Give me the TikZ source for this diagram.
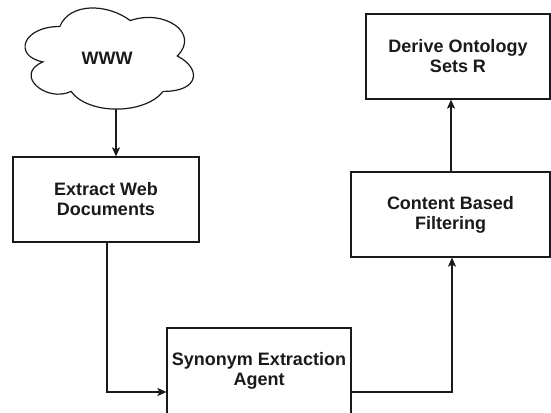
\documentclass[tikz,border=0pt]{standalone}
\usepackage{fontspec}
\setmainfont{Liberation Sans}
\usetikzlibrary{arrows.meta}
\definecolor{ink}{HTML}{1A1A1A}
\tikzset{
  box/.style={draw=ink, line width=1.2pt, fill=white, align=center,
    font=\fontsize{18}{20}\selectfont\bfseries, text=ink, inner sep=0pt},
  conn/.style={draw=ink, line width=1.2pt, -{Stealth[length=9pt,width=8pt,inset=2pt]}},
  wire/.style={draw=ink, line width=1.2pt}
}
\begin{document}
\begin{tikzpicture}[x=1pt,y=-1pt]
\useasboundingbox (0,0) rectangle (551,412);
\clip (0,0) rectangle (551,412);
% cloud (draw.io style), origin (12.8,-3), w=188, h=118
\begin{scope}[shift={(12.8,-3)}, x=188pt, y=-118pt]
\draw[ink, line width=1.2pt, fill=white]
  (0.25,0.25) .. controls (0.05,0.25) and (0,0.5) .. (0.16,0.55)
  .. controls (0,0.66) and (0.18,0.9) .. (0.31,0.8)
  .. controls (0.4,1) and (0.7,1) .. (0.8,0.8)
  .. controls (1,0.8) and (1,0.6) .. (0.875,0.5)
  .. controls (1,0.3) and (0.8,0.1) .. (0.625,0.2)
  .. controls (0.5,0.05) and (0.3,0.05) .. (0.25,0.25) -- cycle;
\end{scope}
\node[font=\fontsize{18}{20}\selectfont\bfseries, text=ink] (www) at (107,58) {WWW};
\coordinate (cloudbot) at (116,109);

\node[box, minimum width=186pt, minimum height=85pt] (extract) at (106,199.5) {Extract Web\\Documents};
\node[box, minimum width=184pt, minimum height=86pt] (syn) at (259,371) {Synonym Extraction\\Agent};
\node[box, minimum width=199pt, minimum height=85pt] (content) at (450.5,214.5) {Content Based\\Filtering};
\node[box, minimum width=184pt, minimum height=85pt] (derive) at (458,56.5) {Derive Ontology\\Sets R};

\draw[conn] (cloudbot) -- (cloudbot |- extract.north);
\coordinate (e1) at (107,392);
\draw[conn] (extract.south -| e1) -- (e1) -- (e1 -| syn.west);
\coordinate (s1) at (452,392);
\draw[conn] (s1 -| syn.east) -- (s1) -- (s1 |- content.south);
\coordinate (c1) at (451,0);
\draw[conn] (c1 |- content.north) -- (c1 |- derive.south);
\end{tikzpicture}
\end{document}
